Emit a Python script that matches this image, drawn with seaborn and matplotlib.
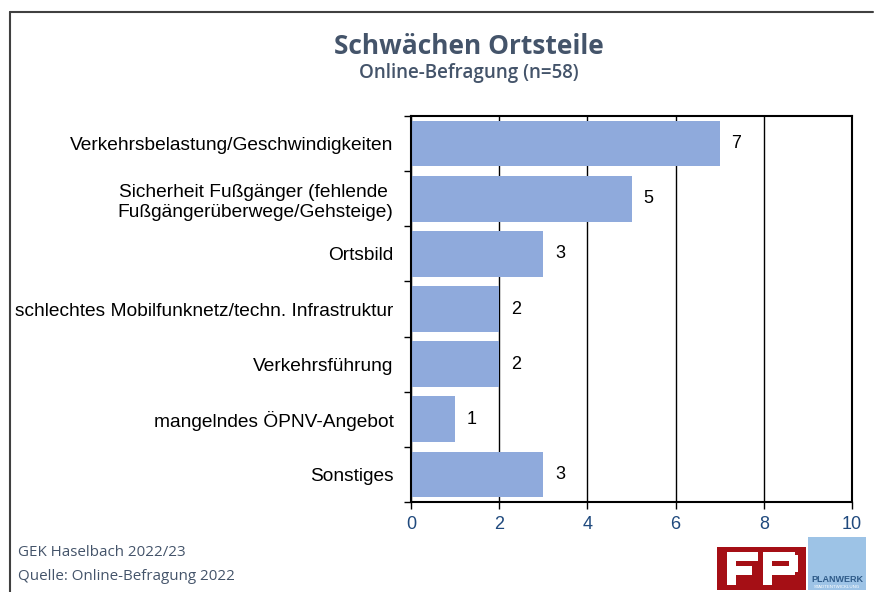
import matplotlib
matplotlib.use("Agg")
import matplotlib.pyplot as plt
from matplotlib.lines import Line2D
from matplotlib.patches import Rectangle
import seaborn as sns
import pandas as pd
import numpy as np

categories = [
    "Verkehrsbelastung/Geschwindigkeiten",
    "Sicherheit Fußgänger (fehlende \nFußgängerüberwege/Gehsteige)",
    "Ortsbild",
    "schlechtes Mobilfunknetz/techn. Infrastruktur",
    "Verkehrsführung",
    "mangelndes ÖPNV-Angebot",
    "Sonstiges",
]
counts = [7, 5, 3, 2, 2, 1, 3]
x_ticks = [0, 2, 4, 6, 8, 10]

title = "Schwächen Ortsteile"
subtitle = "Online-Befragung (n=58)"
footer = ["GEK Haselbach 2022/23", "Quelle: Online-Befragung 2022"]

bar_color = "#8FAADC"
slate = "#44546A"

sns.set_theme(style="white")
plt.rcParams["font.family"] = ["Liberation Sans", "DejaVu Sans"]

df = pd.DataFrame({"Kategorie": categories, "Anzahl": counts})

fig = plt.figure(figsize=(8.74, 5.92), dpi=100)
ax = fig.add_axes([411 / 874, 1 - 502 / 592, 441 / 874, 386 / 592])

sns.barplot(data=df, x="Anzahl", y="Kategorie", color=bar_color,
            saturation=1, width=0.83, linewidth=0, ax=ax, zorder=3)

ax.set_xlim(0, 10)
ax.set_ylim(len(categories) - 0.5, -0.5)
ax.set_xticks(x_ticks)
ax.set_xticklabels([str(t) for t in x_ticks], fontsize=13, color="#1F497D")
ax.set_yticks(range(len(categories)))
ax.set_yticklabels(categories, fontsize=13.75, color="black", linespacing=1.25)
ax.set_yticks(np.arange(-0.5, len(categories)), minor=True)
ax.tick_params(axis="y", which="major", length=0, pad=12.5)
ax.tick_params(axis="y", which="minor", length=5, width=1, color="black", left=True)
ax.tick_params(axis="x", which="major", length=5, width=1, color="black",
               bottom=True, pad=5)
ax.set_xlabel("")
ax.set_ylabel("")
for lbl in ax.get_yticklabels():
    lbl.set_horizontalalignment("right")
    lbl.set_multialignment("center")

ax.grid(axis="x", color="black", linewidth=1, zorder=1)
ax.grid(axis="y", visible=False)
ax.set_axisbelow(True)
for s in ax.spines.values():
    s.set_color("black")
    s.set_linewidth(1.5)
    s.set_zorder(4)

for i, v in enumerate(counts):
    ax.text(v + 0.38, i, str(v), va="center", ha="center", fontsize=13,
            color="black", zorder=5)

fig.text(469 / 874, 1 - 46 / 592, title, ha="center", va="center",
         fontsize=19, fontweight="bold", color=slate, family=["Open Sans", "DejaVu Sans"])
fig.text(469 / 874, 1 - 73 / 592, subtitle, ha="center", va="center",
         fontsize=13.5, fontweight="semibold", color=slate, family=["Open Sans", "DejaVu Sans"])

fig.text(18 / 874, 1 - 552 / 592, footer[0], ha="left", va="center",
         fontsize=10.9, color=slate, family=["Open Sans", "DejaVu Sans"])
fig.text(18 / 874, 1 - 577 / 592, footer[1], ha="left", va="center",
         fontsize=10.9, color=slate, family=["Open Sans", "DejaVu Sans"])

# Outer frame (top and left edges)
fig.add_artist(Line2D([10 / 874, 873 / 874], [1 - 12 / 592, 1 - 12 / 592],
                      color="#404040", lw=1.5, transform=fig.transFigure))
fig.add_artist(Line2D([10 / 874, 10 / 874], [1 - 12 / 592, 0],
                      color="#404040", lw=1.5, transform=fig.transFigure))

# Logos
def px_rect(x0, y0, x1, y1, **kw):
    return Rectangle((x0 / 874, 1 - y1 / 592), (x1 - x0) / 874, (y1 - y0) / 592,
                     transform=fig.transFigure, **kw)

fig.add_artist(px_rect(717, 547, 806, 590, color="#A50F15", lw=0))
# stylised "FP" mark in white
fig.add_artist(px_rect(727, 552, 758, 561, color="white", lw=0))
fig.add_artist(px_rect(727, 566, 752, 575, color="white", lw=0))
fig.add_artist(px_rect(727, 552, 736, 585, color="white", lw=0))
fig.add_artist(px_rect(763, 552, 795, 561, color="white", lw=0))
fig.add_artist(px_rect(763, 552, 772, 585, color="white", lw=0))
fig.add_artist(px_rect(763, 566, 795, 575, color="white", lw=0))
fig.add_artist(px_rect(789, 555, 798, 572, color="white", lw=0))

fig.add_artist(px_rect(808, 537, 866, 590, color="#9DC3E6", lw=0))
fig.text(837 / 874, 1 - 580 / 592, "PLANWERK", ha="center", va="center",
         fontsize=6.5, fontweight="bold", color="#2E5A88")
fig.text(837 / 874, 1 - 587 / 592, "STADTENTWICKLUNG", ha="center", va="center",
         fontsize=3.2, color="white")

fig.savefig("out.png", dpi=100, facecolor="white")
